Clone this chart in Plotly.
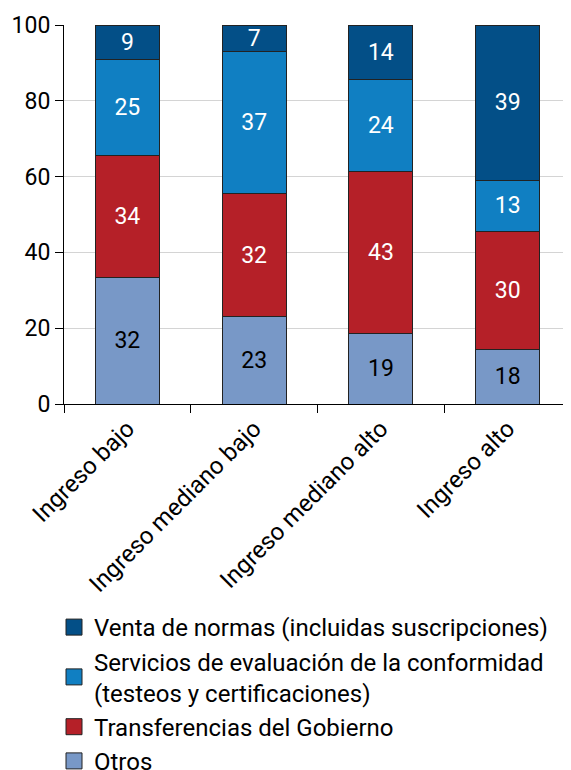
import plotly.graph_objects as go

# Categories and segment heights (as drawn), plus the printed labels
categorias = ["Ingreso bajo", "Ingreso mediano bajo", "Ingreso mediano alto", "Ingreso alto"]

otros = [33.3, 23.0, 18.6, 14.3]
transferencias = [32.2, 32.6, 42.7, 31.3]
servicios = [25.4, 37.3, 24.3, 13.3]
venta = [9.1, 7.1, 14.4, 41.1]

otros_txt = ["32", "23", "19", "18"]
transferencias_txt = ["34", "32", "43", "30"]
servicios_txt = ["25", "37", "24", "13"]
venta_txt = ["9", "7", "14", "39"]

series = [
    ("Otros", otros, otros_txt, "#7898c7", "black"),
    ("Transferencias del Gobierno", transferencias, transferencias_txt, "#b52028", "white"),
    ("Servicios de evaluación de la conformidad<br>(testeos y certificaciones)",
     servicios, servicios_txt, "#107fc2", "white"),
    ("Venta de normas (incluidas suscripciones)", venta, venta_txt, "#034f87", "white"),
]

fig = go.Figure()
for i, (name, vals, txt, color, tcolor) in enumerate(series):
    fig.add_trace(go.Bar(
        x=categorias, y=vals, name=name, showlegend=False,
        text=txt, textposition="inside", insidetextanchor="middle",
        textangle=0, constraintext="none",
        textfont=dict(color=tcolor, size=23, family="Roboto"),
        marker=dict(color=color, line=dict(color="#222222", width=1)),
        hoverinfo="skip",
    ))
    # legend-only entry with a bigger square swatch
    fig.add_trace(go.Scatter(
        x=[None], y=[None], mode="markers", name=name,
        marker=dict(symbol="square", size=18, color=color,
                    line=dict(color="#222222", width=1)),
        legendgroup=str(i), hoverinfo="skip",
    ))

# page body has an 8px margin, so the figure is sized to fill the rest
W, H = 563, 762
fig.update_layout(
    width=W, height=H,
    barmode="stack", bargap=0.495,
    margin=dict(l=56, r=0, t=17, b=366, autoexpand=False),
    plot_bgcolor="white", paper_bgcolor="white",
    font=dict(family="Roboto", size=23, color="black"),
    legend=dict(
        traceorder="reversed", orientation="v", itemsizing="trace",
        x=46 / W, xanchor="left", xref="container",
        y=1 - 597 / H, yanchor="top", yref="container",
        font=dict(size=24), tracegroupgap=0,
        bgcolor="rgba(0,0,0,0)",
    ),
    showlegend=True,
)
fig.update_yaxes(
    range=[0, 100], dtick=20, showgrid=True, gridcolor="#d4d4d4", gridwidth=1,
    showline=True, linecolor="black", linewidth=1,
    ticks="outside", ticklen=8, tickcolor="black", zeroline=False,
)
fig.update_xaxes(
    tickangle=-45, tickfont=dict(size=24),
    showline=True, linecolor="black", linewidth=1,
    ticks="outside", ticklen=8, tickcolor="black", tickson="boundaries",
)

fig.write_html("out.html")
